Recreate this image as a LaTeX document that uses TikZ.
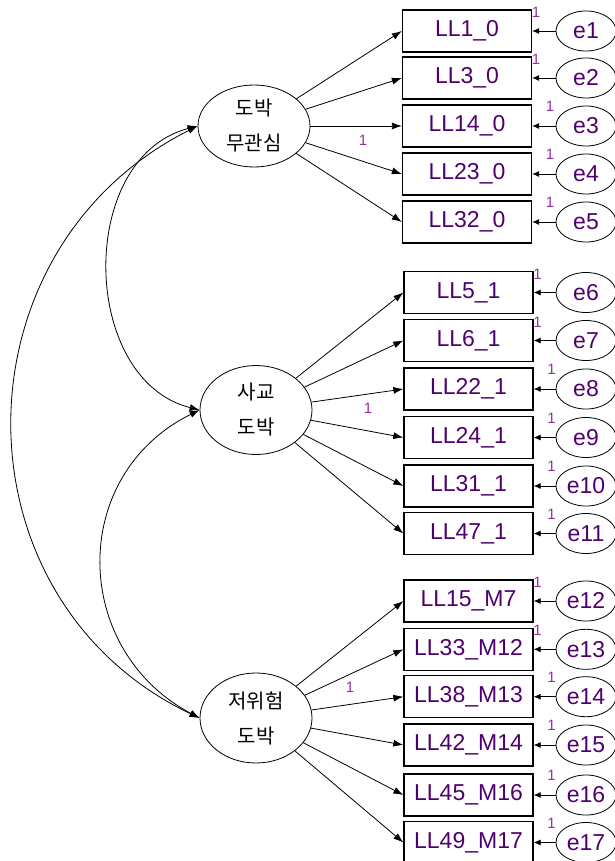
\documentclass[tikz,border=0pt]{standalone}
\usepackage{fontspec}
\setmainfont{Liberation Sans}
\newfontfamily\kr{Noto Sans CJK KR}
\usetikzlibrary{arrows.meta,shapes.geometric}
\definecolor{vtext}{RGB}{80,0,110}
\definecolor{onecol}{RGB}{150,50,160}
\begin{document}
\begin{tikzpicture}[x=1pt,y=-1pt,
 obs/.style={draw, line width=1.3pt, minimum width=129pt, minimum height=42pt, inner sep=0pt, text=vtext, font=\fontsize{23}{23}\selectfont},
 err/.style={draw, ellipse, line width=0.8pt, minimum width=60pt, minimum height=40pt, inner sep=0pt, text=vtext, font=\fontsize{23}{23}\selectfont},
 lat/.style={draw, ellipse, line width=0.8pt, minimum width=112pt, inner sep=0pt, align=center, font=\kr\fontsize{20}{35}\selectfont},
 load/.style={-{Latex[length=10pt,width=7pt]}, line width=0.8pt},
 earr/.style={-{Latex[length=7pt,width=6pt]}, line width=0.8pt},
 cov/.style={{Latex[length=10pt,width=7pt]}-{Latex[length=10pt,width=7pt]}, line width=0.8pt},
 one/.style={text=onecol, font=\fontsize{15}{15}\selectfont, inner sep=0pt}
]
\useasboundingbox (0,0) rectangle (614,861);

% latent variables
\node[lat, minimum height=82pt] (L1) at (254,126) {도박\\무관심};
\node[lat, minimum height=89pt] (L2) at (256,410) {사교\\도박};
\node[lat, minimum height=90pt] (L3) at (256,718) {저위험\\도박};

% observed variables
\node[obs] (b1) at (467,31) {LL1\_0};
\node[obs] (b2) at (467,78) {LL3\_0};
\node[obs] (b3) at (467,126) {LL14\_0};
\node[obs] (b4) at (467,174) {LL23\_0};
\node[obs] (b5) at (467,222) {LL32\_0};
\node[obs] (b6) at (468.5,292.5) {LL5\_1};
\node[obs] (b7) at (468.5,340.5) {LL6\_1};
\node[obs] (b8) at (468.5,389) {LL22\_1};
\node[obs] (b9) at (468.5,437.5) {LL24\_1};
\node[obs] (b10) at (468.5,486) {LL31\_1};
\node[obs] (b11) at (468.5,533.5) {LL47\_1};
\node[obs] (b12) at (468.5,601) {LL15\_M7};
\node[obs] (b13) at (468.5,649.3) {LL33\_M12};
\node[obs] (b14) at (468.5,696.7) {LL38\_M13};
\node[obs] (b15) at (468.5,745) {LL42\_M14};
\node[obs] (b16) at (468.5,795) {LL45\_M16};
\node[obs] (b17) at (468.5,842.5) {LL49\_M17};

% error terms
\foreach \i/\y in {1/31,2/78,3/126,4/174,5/222,6/292.5,7/340.5,8/389,9/437.5,10/486,11/533.5,12/601,13/649.3,14/696.7,15/745,16/795,17/842.5}{
  \node[err] (e\i) at (586,\y) {e\i};
  \draw[earr] (e\i) -- (b\i.east);
}

% regression weight labels on error paths
\foreach \i in {1,2,6,7,12,13}{
  \node[one] (o\i) at ([xshift=4pt,yshift=-3pt]b\i.north east) {1};
}
\foreach \i in {3,4,5,8,9,10,11,14,15,16,17}{
  \node[one] (o\i) at ([xshift=18pt,yshift=-2pt]b\i.north east) {1};
}

% loadings
\foreach \i in {1,...,5}{\draw[load] (L1) -- (b\i.west);}
\foreach \i in {6,...,11}{\draw[load] (L2) -- (b\i.west);}
\foreach \i in {12,...,17}{\draw[load] (L3) -- (b\i.west);}

\node[one] (f1) at (363,140) {1};
\node[one] (f2) at (368,408) {1};
\node[one] (f3) at (350,687) {1};

% covariances
\draw[cov] (L1.west) .. controls (76,158) and (80,380) .. (L2.west);
\draw[cov] (L2.west) .. controls (68,475) and (71,650) .. (L3.west);
\draw[cov] (L1.west) .. controls (-49,250) and (-49,600) .. (L3.west);
\end{tikzpicture}
\end{document}
